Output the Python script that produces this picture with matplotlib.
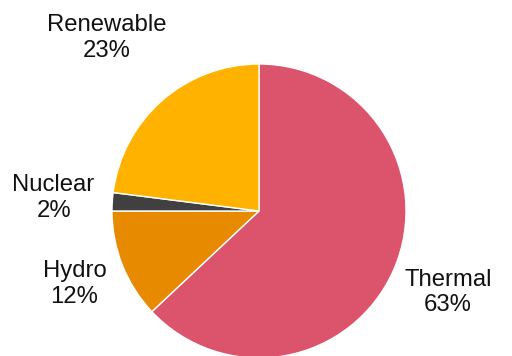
import numpy as np
import matplotlib.pyplot as plt

labels = ["Thermal", "Hydro", "Nuclear", "Renewable"]
shares = [63, 12, 2, 23]
colors = ["#DB546C", "#E88A00", "#404040", "#FFB300"]
label_dist = [1.40, 1.35, 1.40, 1.57]

plt.rcParams['font.family'] = ['Liberation Sans', 'DejaVu Sans']

fig = plt.figure(figsize=(5.12, 3.56), dpi=100)
ax = fig.add_axes([0, 0, 1, 1])

wedges, _ = ax.pie(shares, colors=colors, startangle=90, counterclock=False,
                   radius=1.0, wedgeprops=dict(edgecolor="white", linewidth=1))

# labels at mid-angle of each wedge
for w, name, val, d in zip(wedges, labels, shares, label_dist):
    mid = np.deg2rad((w.theta1 + w.theta2) / 2)
    ax.text(d * np.cos(mid), d * np.sin(mid), f"{name}\n{val}%",
            ha="center", va="center", fontsize=17.2, color="#111111",
            linespacing=1.2)

r = 147.0
ax.set_xlim(-259 / r, (512 - 259) / r)
ax.set_ylim(-(356 - 211) / r, 211 / r)
ax.axis("off")

plt.savefig("out.png", dpi=100)
